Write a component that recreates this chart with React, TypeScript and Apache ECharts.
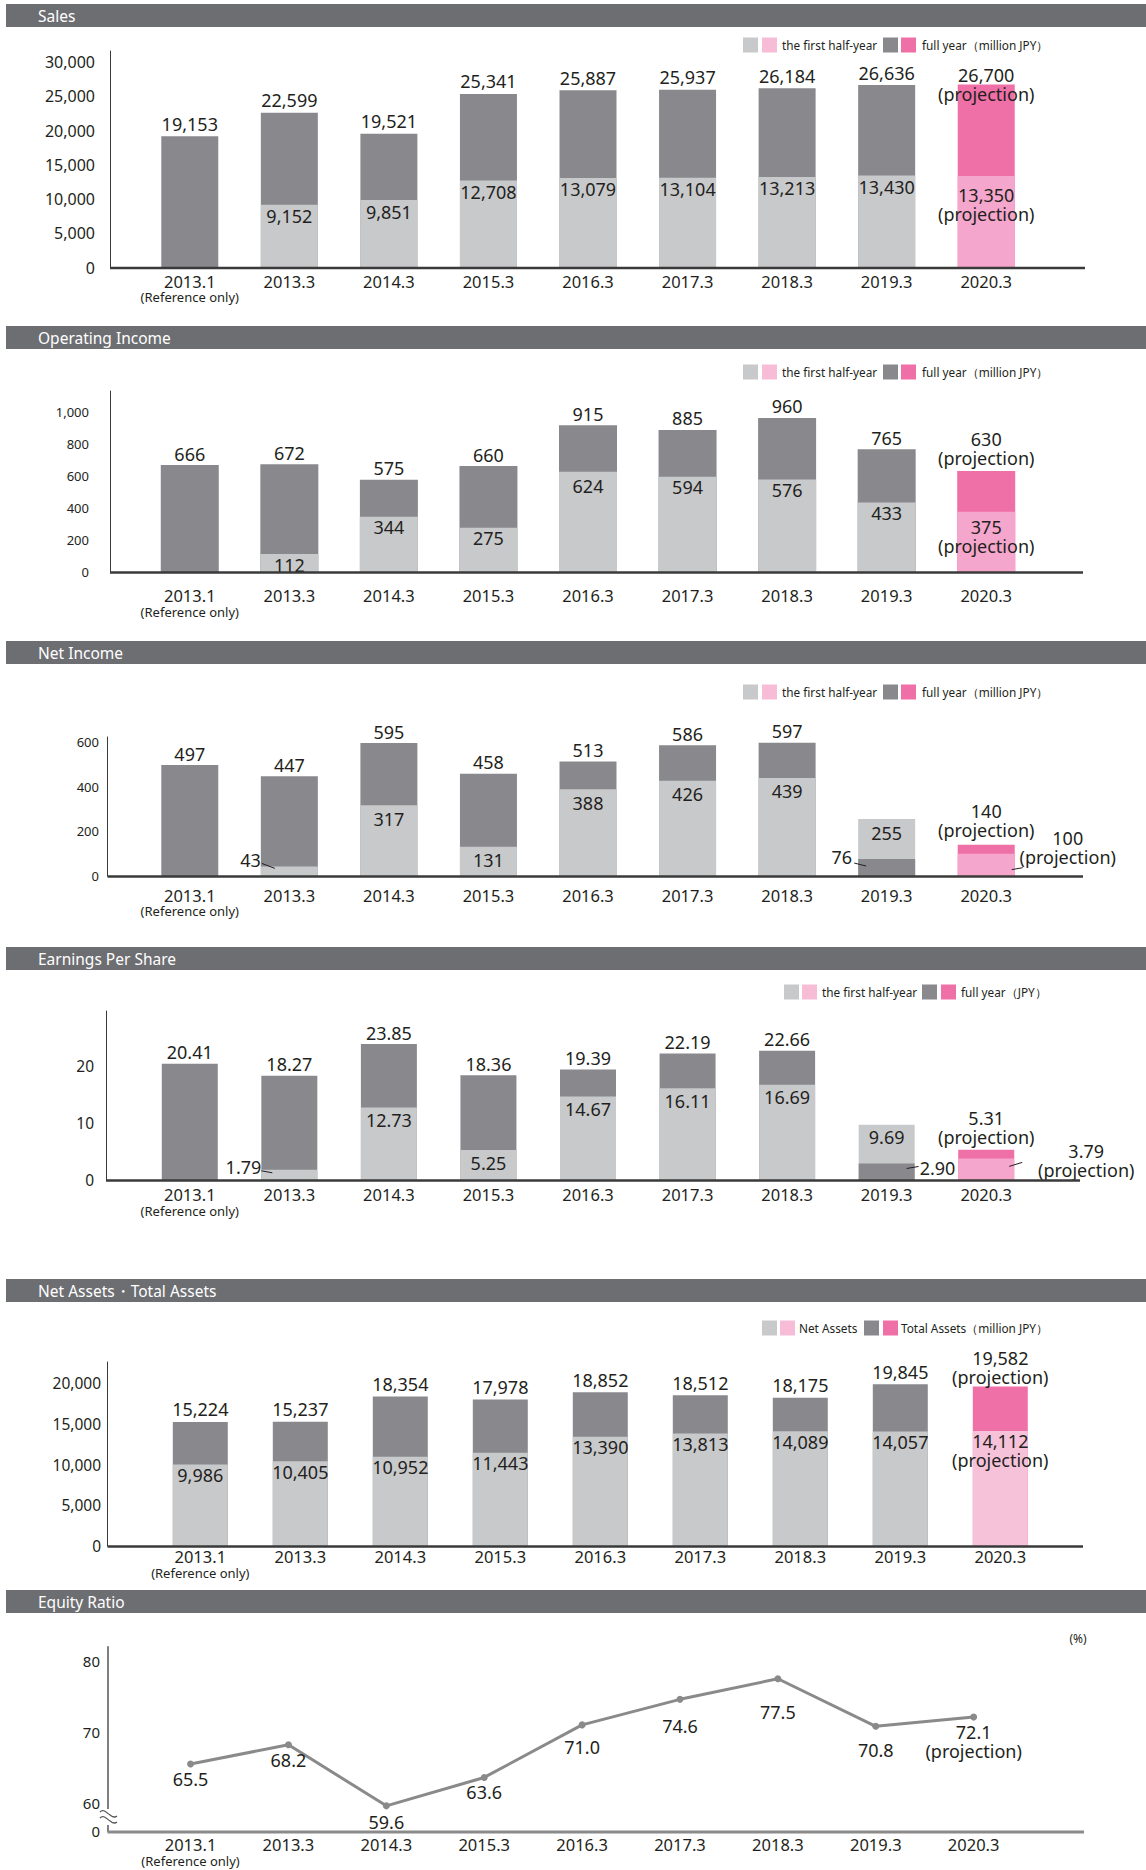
import React, { useEffect, useRef } from 'react';
import * as echarts from 'echarts';

// ---------------- data ----------------
const categories = ['2013.1', '2013.3', '2014.3', '2015.3', '2016.3', '2017.3', '2018.3', '2019.3', '2020.3'];
const referenceNote = '(Reference only)';
const projectionNote = '(projection)';
const projectionIndex = 8;

const salesHalf = [null, 9152, 9851, 12708, 13079, 13104, 13213, 13430, 13350];
const salesFull = [19153, 22599, 19521, 25341, 25887, 25937, 26184, 26636, 26700];

const opIncomeHalf = [null, 112, 344, 275, 624, 594, 576, 433, 375];
const opIncomeFull = [666, 672, 575, 660, 915, 885, 960, 765, 630];

const netIncomeHalf = [null, 43, 317, 131, 388, 426, 439, 255, 100];
const netIncomeFull = [497, 447, 595, 458, 513, 586, 597, 76, 140];

const epsHalf = [null, 1.79, 12.73, 5.25, 14.67, 16.11, 16.69, 9.69, 3.79];
const epsFull = [20.41, 18.27, 23.85, 18.36, 19.39, 22.19, 22.66, 2.9, 5.31];

const netAssets = [9986, 10405, 10952, 11443, 13390, 13813, 14089, 14057, 14112];
const totalAssets = [15224, 15237, 18354, 17978, 18852, 18512, 18175, 19845, 19582];

const equityRatio = [65.5, 68.2, 59.6, 63.6, 71.0, 74.6, 77.5, 70.8, 72.1];

const salesTickStep = 5000;
const opIncomeTickStep = 200;
const netIncomeTickStep = 200;
const epsTickStep = 10;
const assetsTickStep = 5000;
const equityTicks = [60, 70, 80];

// ---------------- styles ----------------
const FONT = "'Noto Sans', 'Liberation Sans', sans-serif";
const TEXT = '#231f20';
const C_HALF = '#c8c9cb';
const C_HALF_P = '#f5a6cc';
const C_HALF_P_LIGHT = '#f6c2da';
const C_HALF_LEG = '#f7bcd6';
const C_FULL = '#89898d';
const C_FULL_P = '#ef6fa7';
const C_HEADER = '#6d6e72';
const C_AXIS = '#3a3a3a';
const C_LINE = '#8a8a8a';

const fmtInt = (v: number) => v.toLocaleString('en-US');
const fmt2 = (v: number) => v.toFixed(2);
const fmt1 = (v: number) => v.toFixed(1);

const barPanels: any[] = [
  {
    title: 'Sales', headerY: 4, legendY: 45, legendXs: [743, 762, 782, 883, 901, 922],
    legendHalf: 'the first half-year', legendFull: 'full year（million JPY）',
    lineTop: 51, zeroY: 267.5, refVal: 30000, refY: 62, interval: salesTickStep,
    gridLeft: 140, gridWidth: 896, axisX: 110, axisRight: 1085,
    yFont: 16, yMargin: 15, xMargin: 5, barWidth: 57,
    half: salesHalf, full: salesFull, fmt: fmtInt, tickFmt: fmtInt, halfProjColor: C_HALF_P,
    halfDist: 2, fullDist: 3,
    overrides: {
      full8: { label: { distance: 0, offset: [0, 19] } },
      half8: { label: { distance: 9 } },
    },
  },
  {
    title: 'Operating Income', headerY: 326, legendY: 372, legendXs: [743, 762, 782, 883, 901, 922],
    legendHalf: 'the first half-year', legendFull: 'full year（million JPY）',
    lineTop: 391, zeroY: 572, refVal: 1000, refY: 411.5, interval: opIncomeTickStep,
    gridLeft: 140, gridWidth: 896, axisX: 110, axisRight: 1083,
    yFont: 13, yMargin: 21, xMargin: 15, barWidth: 58,
    half: opIncomeHalf, full: opIncomeFull, fmt: fmtInt, tickFmt: fmtInt, halfProjColor: C_HALF_P,
    halfDist: 1, fullDist: 2,
    overrides: {
      full8: { label: { distance: 3 } },
      half8: { label: { distance: 6 } },
      half4: { label: { distance: 5 } },
    },
  },
  {
    title: 'Net Income', headerY: 641, legendY: 692, legendXs: [743, 762, 782, 883, 901, 922],
    legendHalf: 'the first half-year', legendFull: 'full year（million JPY）',
    lineTop: 737, zeroY: 876, refVal: 600, refY: 742, interval: netIncomeTickStep,
    gridLeft: 140, gridWidth: 896, axisX: 107.5, axisRight: 1083,
    yFont: 13, yMargin: 8.5, xMargin: 10.5, barWidth: 57,
    half: netIncomeHalf, full: netIncomeFull, fmt: fmtInt, tickFmt: fmtInt, halfProjColor: C_HALF_P,
    halfDist: 4, fullDist: 2,
    overrides: {
      full8: { label: { distance: 5 } },
      half1: { label: { position: 'left', distance: 0, offset: [0, -11] } },
      full7: { label: { position: 'left', distance: 6, offset: [0, -11] } },
      half8: { label: { position: 'right', align: 'center', distance: 7, offset: [46, -17] } },
    },
  },
  {
    title: 'Earnings Per Share', headerY: 947, legendY: 992, legendXs: [784, 802, 822, 922, 941, 961],
    legendHalf: 'the first half-year', legendFull: 'full year（JPY）',
    lineTop: 1011, zeroY: 1180, refVal: 20, refY: 1066, interval: epsTickStep,
    gridLeft: 140, gridWidth: 896, axisX: 106, axisRight: 1080,
    yFont: 15.5, yMargin: 12, xMargin: 6, barWidth: 56,
    half: epsHalf, full: epsFull, fmt: fmt2, tickFmt: (v: number) => String(v), halfProjColor: C_HALF_P,
    halfDist: 3, fullDist: 2,
    overrides: {
      full8: { label: { distance: 3 } },
      half1: { label: { position: 'left', distance: 0, offset: [0, -8] } },
      full7: { label: { position: 'right', distance: 5, offset: [0, -4] } },
      half8: { label: { position: 'right', align: 'center', distance: 26, offset: [46, -9] } },
    },
  },
  {
    title: 'Net Assets・Total Assets', headerY: 1279, legendY: 1328, legendXs: [762, 780, 799, 864, 883, 901],
    legendHalf: 'Net Assets', legendFull: 'Total Assets（million JPY）',
    lineTop: 1362, zeroY: 1546, refVal: 20000, refY: 1383, interval: assetsTickStep,
    gridLeft: 150.3, gridWidth: 900, axisX: 107.5, axisRight: 1083,
    yFont: 15.5, yMargin: 6.5, xMargin: 2, barWidth: 55,
    half: netAssets, full: totalAssets, fmt: fmtInt, tickFmt: fmtInt, halfProjColor: C_HALF_P_LIGHT,
    halfDist: 1, fullDist: 3,
    overrides: {
      full8: { label: { distance: 0 } },
      half8: { label: { distance: 1 } },
    },
  },
];

// leader lines next to small outside labels: panel, category index, which bar, bar edge, two points relative to (edge, bar top)
const leaderSpecs = [
  { panel: 2, idx: 1, kind: 'half', edge: 'left', pts: [[1, -3], [14, 2]] },
  { panel: 2, idx: 7, kind: 'full', edge: 'left', pts: [[-4, 4], [8, 7]] },
  { panel: 2, idx: 8, kind: 'half', edge: 'right', pts: [[-3, 16], [8, 14]] },
  { panel: 3, idx: 1, kind: 'half', edge: 'left', pts: [[0, 1], [11, 3]] },
  { panel: 3, idx: 7, kind: 'full', edge: 'right', pts: [[-8, 5], [4, 3]] },
  { panel: 3, idx: 8, kind: 'half', edge: 'right', pts: [[-5, 8], [8, 4]] },
];

const equityLayout = {
  title: 'Equity Ratio', headerY: 1590,
  gridLeft: 141.6, gridWidth: 881, top: 1646.8, bottom: 1831.4, min: 56, max: 82, step: 2,
  axisX: 107.5, axisRight: 1084, xMargin: 5,
};
const equityLabelGap = [2, 2, 3, 2, 9, 14, 20, 11, 2];

// ---------------- builders ----------------
function header(title: string, y: number) {
  return [
    { type: 'rect', z: 50, shape: { x: 6, y, width: 1140, height: 23 }, style: { fill: C_HEADER } },
    {
      type: 'text', z: 51, x: 38, y: y + 11.5,
      style: { text: title, fill: '#ffffff', fontSize: 15.5, fontFamily: FONT, align: 'left', verticalAlign: 'middle', textAlign: 'left', textVerticalAlign: 'middle' },
    },
  ];
}

function legend(y: number, xs: number[], halfText: string, fullText: string) {
  const sq = (x: number, color: string) => ({ type: 'rect', z: 50, shape: { x, y: y - 7.5, width: 15, height: 15 }, style: { fill: color } });
  const tx = (x: number, text: string) => ({
    type: 'text', z: 50, x, y,
    style: { text, fill: TEXT, fontSize: 11.8, fontFamily: FONT, align: 'left', verticalAlign: 'middle', textAlign: 'left', textVerticalAlign: 'middle' },
  });
  return [sq(xs[0], C_HALF), sq(xs[1], C_HALF_LEG), tx(xs[2], halfText), sq(xs[3], C_FULL), sq(xs[4], C_FULL_P), tx(xs[5], fullText)];
}

function categoryAxisLabel(margin: number) {
  return {
    interval: 0,
    margin,
    color: TEXT,
    fontFamily: FONT,
    formatter: (v: string, i: number) => (i === 0 ? `{a|${v}}\n{b|${referenceNote}}` : `{a|${v}}`),
    rich: {
      a: { fontSize: 16.5, lineHeight: 17, color: TEXT, fontFamily: FONT },
      b: { fontSize: 13, lineHeight: 15, color: TEXT, fontFamily: FONT },
    },
  };
}

function buildBarData(p: any) {
  const back: any[] = [];
  const front: any[] = [];
  p.full.forEach((f: number, i: number) => {
    const h = p.half[i];
    const proj = i === projectionIndex;
    const mk = (kind: 'half' | 'full', v: number | null) => {
      if (v == null) return { value: null, label: { show: false } };
      const ov = p.overrides[kind + i] || {};
      const base = kind === 'full'
        ? { position: 'top', distance: p.fullDist }
        : { position: 'insideTop', distance: p.halfDist };
      const color = kind === 'full' ? (proj ? C_FULL_P : C_FULL) : (proj ? p.halfProjColor : C_HALF);
      return {
        value: v,
        itemStyle: { color },
        label: { ...base, ...(ov.label || {}), formatter: p.fmt(v) + (proj ? '\n' + projectionNote : '') },
      };
    };
    const fullItem = mk('full', f);
    const halfItem = mk('half', h);
    if (h == null || f >= h) {
      back.push(fullItem);
      front.push(halfItem);
    } else {
      back.push(halfItem);
      front.push(fullItem);
    }
  });
  return { back, front };
}

function buildOption(extraGraphics: any[]) {
  const grid: any[] = [];
  const xAxis: any[] = [];
  const yAxis: any[] = [];
  const series: any[] = [];
  const graphic: any[] = [];

  const labelBase = { show: true, color: TEXT, fontSize: 18, lineHeight: 19, fontFamily: FONT };

  barPanels.forEach((p, gi) => {
    const height = p.zeroY - p.lineTop;
    const max = (p.refVal * height) / (p.zeroY - p.refY);
    grid.push({ left: p.gridLeft, width: p.gridWidth, top: p.lineTop, height });
    xAxis.push({
      type: 'category', gridIndex: gi, data: categories,
      axisLine: { show: false }, axisTick: { show: false }, splitLine: { show: false },
      axisLabel: categoryAxisLabel(p.xMargin),
    });
    yAxis.push({
      type: 'value', gridIndex: gi, position: 'left', min: 0, max, interval: p.interval,
      offset: p.gridLeft - p.axisX,
      axisLine: { show: true, lineStyle: { color: C_AXIS, width: 1 } },
      axisTick: { show: false }, splitLine: { show: false },
      axisLabel: {
        fontSize: p.yFont, margin: p.yMargin, color: TEXT, fontFamily: FONT, showMaxLabel: false,
        formatter: (v: number) => (Math.abs(v / p.interval - Math.round(v / p.interval)) < 1e-6 ? p.tickFmt(v) : ''),
      },
    });
    const { back, front } = buildBarData(p);
    const common = {
      type: 'bar', xAxisIndex: gi, yAxisIndex: gi, barWidth: p.barWidth, barGap: '-100%',
      label: labelBase, emphasis: { disabled: true },
    };
    series.push({ ...common, name: p.title + ' back', data: back, z: 2 });
    series.push({ ...common, name: p.title + ' front', data: front, z: 3 });

    graphic.push(...header(p.title, p.headerY));
    graphic.push(...legend(p.legendY, p.legendXs, p.legendHalf, p.legendFull));
    graphic.push({
      type: 'line', z: 60,
      shape: { x1: p.axisX, y1: p.zeroY + 0.5, x2: p.axisRight, y2: p.zeroY + 0.5 },
      style: { stroke: C_AXIS, lineWidth: 2.5 },
    });
  });

  // Equity ratio
  const e = equityLayout;
  const gi = barPanels.length;
  grid.push({ left: e.gridLeft, width: e.gridWidth, top: e.top, height: e.bottom - e.top });
  xAxis.push({
    type: 'category', gridIndex: gi, data: categories,
    axisLine: { show: false }, axisTick: { show: false }, splitLine: { show: false },
    axisLabel: categoryAxisLabel(e.xMargin),
  });
  yAxis.push({
    type: 'value', gridIndex: gi, position: 'left', min: e.min, max: e.max, interval: e.step,
    offset: e.gridLeft - e.axisX,
    axisLine: { show: true, lineStyle: { color: '#555555', width: 1.5 } },
    axisTick: { show: false }, splitLine: { show: false },
    axisLabel: {
      fontSize: 15, margin: 7.5, color: TEXT, fontFamily: FONT, showMaxLabel: false,
      formatter: (v: number) => (v === e.min ? '0' : equityTicks.includes(v) ? String(v) : ''),
    },
  });
  series.push({
    type: 'line', name: 'Equity Ratio', xAxisIndex: gi, yAxisIndex: gi,
    data: equityRatio.map((v, i) => ({
      value: v,
      label: { distance: equityLabelGap[i], formatter: fmt1(v) + (i === projectionIndex ? '\n' + projectionNote : '') },
    })),
    symbol: 'circle', symbolSize: 7, showSymbol: true,
    lineStyle: { color: C_LINE, width: 3 }, itemStyle: { color: C_LINE },
    label: { ...labelBase, position: 'bottom' },
    emphasis: { disabled: true },
  });
  graphic.push(...header(e.title, e.headerY));
  graphic.push({
    type: 'line', z: 60,
    shape: { x1: e.axisX, y1: e.bottom + 0.5, x2: e.axisRight, y2: e.bottom + 0.5 },
    style: { stroke: C_LINE, lineWidth: 3 },
  });
  graphic.push({
    type: 'text', z: 60, x: 1078, y: 1638,
    style: { text: '(%)', fill: TEXT, fontSize: 12, fontFamily: FONT, align: 'center', verticalAlign: 'middle', textAlign: 'center', textVerticalAlign: 'middle' },
  });
  // axis break marker
  graphic.push({ type: 'rect', z: 60, shape: { x: 103, y: 1809, width: 10, height: 16 }, style: { fill: '#ffffff' } });
  graphic.push({
    type: 'bezierCurve', z: 61,
    shape: { x1: 100, y1: 1812, cpx1: 105, cpy1: 1806, cpx2: 111, cpy2: 1821, x2: 117, y2: 1816 },
    style: { stroke: '#555555', lineWidth: 1.2, fill: 'none' },
  });
  graphic.push({
    type: 'bezierCurve', z: 61,
    shape: { x1: 100, y1: 1818, cpx1: 105, cpy1: 1812, cpx2: 111, cpy2: 1827, x2: 117, y2: 1822 },
    style: { stroke: '#555555', lineWidth: 1.2, fill: 'none' },
  });

  graphic.push(...extraGraphics);

  return {
    animation: false,
    backgroundColor: '#ffffff',
    textStyle: { fontFamily: FONT },
    grid, xAxis, yAxis, series, graphic,
  };
}

function buildLeaders(chart: any) {
  return leaderSpecs.map((s) => {
    const p = barPanels[s.panel];
    const v = s.kind === 'half' ? p.half[s.idx] : p.full[s.idx];
    const pt = chart.convertToPixel({ gridIndex: s.panel }, [s.idx, v]);
    const cx = pt[0];
    const top = pt[1];
    const ex = s.edge === 'left' ? cx - p.barWidth / 2 : cx + p.barWidth / 2;
    return {
      type: 'line', z: 70,
      shape: { x1: ex + s.pts[0][0], y1: top + s.pts[0][1], x2: ex + s.pts[1][0], y2: top + s.pts[1][1] },
      style: { stroke: TEXT, lineWidth: 1 },
    };
  });
}

export default function App() {
  const ref = useRef<HTMLDivElement>(null);
  useEffect(() => {
    if (!ref.current) return;
    const chart = echarts.init(ref.current, null, { renderer: 'svg' });
    chart.setOption(buildOption([]) as any);
    let leaders: any[] = [];
    try {
      leaders = buildLeaders(chart);
    } catch (err) {
      leaders = [];
    }
    chart.setOption(buildOption(leaders) as any, true);
    return () => chart.dispose();
  }, []);
  return (
    <div
      ref={ref}
      style={{ position: 'absolute', left: 0, top: 0, width: 1146, height: 1870, background: '#ffffff' }}
    />
  );
}
